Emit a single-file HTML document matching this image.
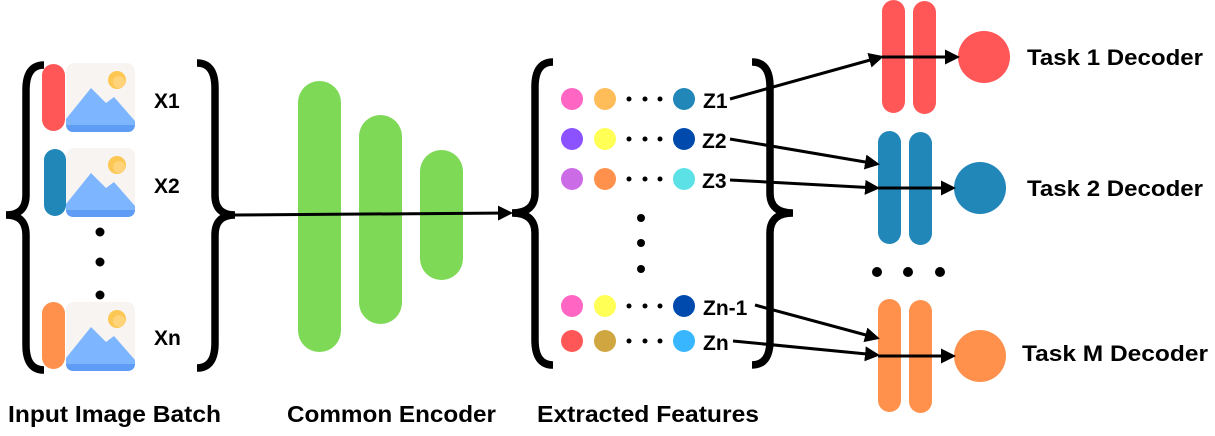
<!DOCTYPE html>
<html><head><meta charset="utf-8"><style>
html,body{margin:0;padding:0;background:#fff;}
svg{display:block;}
text{font-family:"Liberation Sans",sans-serif;font-weight:bold;fill:#000;}
</style></head><body>
<svg width="1215" height="436" viewBox="0 0 1215 436" xmlns="http://www.w3.org/2000/svg">
<defs>
<marker id="ah" markerWidth="5" markerHeight="5" refX="4" refY="2.5" orient="auto" markerUnits="strokeWidth">
<path d="M0,0 L5,2.5 L0,5 Z" fill="#000"/>
</marker>
<g id="img">
<rect x="0" y="0" width="69" height="69" rx="8" fill="#f8f4f2"/>
<path d="M0,56 L25,25 L40,40 L48,34 L69,58 L69,61 Q69,69 61,69 L8,69 Q0,69 0,61 Z" fill="#7eb5ff"/>
<path d="M0,62 L69,62 L69,61 Q69,69 61,69 L8,69 Q0,69 0,61 Z" fill="#5e9cf5"/>
<circle cx="51" cy="17" r="9" fill="#fdc753"/>
<circle cx="53" cy="19" r="6" fill="#ffd37a"/>
</g>
</defs>

<path d="M44,65 Q26,65 26,90 L26,195 Q26,215 6,215 Q26,215 26,235 L26,345 Q26,370 44,370" fill="none" stroke="#000" stroke-width="7.5"/>
<path d="M197,63 Q215,63 215,88 L215,195 Q215,215 235,215 Q215,215 215,235 L215,343 Q215,368 197,368" fill="none" stroke="#000" stroke-width="7.5"/>

<rect x="42" y="64" width="23" height="67" rx="11.5" fill="#ff5757"/>
<use href="#img" x="66" y="63"/>
<rect x="44" y="149" width="22" height="67" rx="11" fill="#2186b8"/>
<use href="#img" x="66" y="148"/>
<rect x="42" y="302" width="23" height="67" rx="11.5" fill="#ff914d"/>
<use href="#img" x="66" y="302"/>
<circle cx="100" cy="232" r="4.5" fill="#000"/>
<circle cx="100" cy="262" r="4.5" fill="#000"/>
<circle cx="100" cy="295" r="4.5" fill="#000"/>
<text x="154" y="108" font-size="21">X1</text>
<text x="154" y="193" font-size="21">X2</text>
<text x="154" y="345" font-size="21">Xn</text>

<rect x="298" y="81" width="43" height="271" rx="21.5" fill="#7ed957"/>
<rect x="359" y="115" width="43" height="209" rx="21.5" fill="#7ed957"/>
<rect x="420" y="150" width="43" height="130" rx="21.5" fill="#7ed957"/>
<line x1="235" y1="215" x2="510" y2="213" stroke="#000" stroke-width="3" marker-end="url(#ah)"/>

<path d="M553,62 Q535,62 535,87 L535,193 Q535,213 512,213 Q535,213 535,233 L535,340 Q535,365 553,365" fill="none" stroke="#000" stroke-width="7.5"/>
<path d="M752,62 Q770,62 770,87 L770,193 Q770,213 793,213 Q770,213 770,233 L770,340 Q770,365 752,365" fill="none" stroke="#000" stroke-width="7.5"/>

<g>
<circle cx="572" cy="99" r="11" fill="#ff66c4"/><circle cx="605" cy="99" r="11" fill="#ffbd59"/><circle cx="684" cy="99" r="11" fill="#2186b8"/>
<circle cx="572" cy="139" r="11" fill="#8c52ff"/><circle cx="605" cy="139" r="11" fill="#ffff55"/><circle cx="684" cy="139" r="11" fill="#004aad"/>
<circle cx="572" cy="179" r="11" fill="#cb6ce6"/><circle cx="605" cy="179" r="11" fill="#ff914d"/><circle cx="684" cy="179" r="11" fill="#5ce1e6"/>
<circle cx="572" cy="306" r="11" fill="#ff66c4"/><circle cx="605" cy="306" r="11" fill="#ffff55"/><circle cx="684" cy="306" r="11" fill="#004aad"/>
<circle cx="572" cy="341" r="11" fill="#ff5757"/><circle cx="605" cy="341" r="11" fill="#d0a640"/><circle cx="684" cy="341" r="11" fill="#38b6ff"/>
</g>
<g fill="#000">
<circle cx="629" cy="99" r="2.5"/><circle cx="645" cy="99" r="2.5"/><circle cx="660" cy="99" r="2.5"/>
<circle cx="629" cy="139" r="2.5"/><circle cx="645" cy="139" r="2.5"/><circle cx="660" cy="139" r="2.5"/>
<circle cx="629" cy="179" r="2.5"/><circle cx="645" cy="179" r="2.5"/><circle cx="660" cy="179" r="2.5"/>
<circle cx="629" cy="306" r="2.5"/><circle cx="645" cy="306" r="2.5"/><circle cx="660" cy="306" r="2.5"/>
<circle cx="629" cy="341" r="2.5"/><circle cx="645" cy="341" r="2.5"/><circle cx="660" cy="341" r="2.5"/>
<circle cx="641" cy="218" r="4"/><circle cx="641" cy="243" r="4"/><circle cx="641" cy="269" r="4"/>
</g>
<text x="703" y="108" font-size="21">Z1</text>
<text x="702" y="148" font-size="21">Z2</text>
<text x="702" y="188" font-size="21">Z3</text>
<text x="703" y="315" font-size="21">Zn-1</text>
<text x="703" y="350" font-size="21">Zn</text>

<rect x="882" y="0" width="23" height="113" rx="11.5" fill="#ff5757"/>
<rect x="913" y="1" width="23" height="113" rx="11.5" fill="#ff5757"/>
<circle cx="984" cy="57" r="26" fill="#ff5757"/>
<rect x="878" y="131" width="23" height="113" rx="11.5" fill="#2186b8"/>
<rect x="909" y="132" width="23" height="113" rx="11.5" fill="#2186b8"/>
<circle cx="980" cy="188" r="26" fill="#2186b8"/>
<rect x="878" y="299" width="23" height="113" rx="11.5" fill="#ff914d"/>
<rect x="909" y="300" width="23" height="113" rx="11.5" fill="#ff914d"/>
<circle cx="980" cy="356" r="26" fill="#ff914d"/>
<circle cx="877" cy="272" r="5" fill="#000"/><circle cx="908" cy="272" r="5" fill="#000"/><circle cx="940" cy="272" r="5" fill="#000"/>

<g stroke="#000" stroke-width="3" fill="none" marker-end="url(#ah)">
<line x1="730" y1="99" x2="881" y2="57"/>
<line x1="730" y1="139" x2="877" y2="164"/>
<line x1="730" y1="180" x2="877" y2="188"/>
<line x1="755" y1="305" x2="877" y2="338"/>
<line x1="733" y1="341" x2="877" y2="355"/>
<line x1="882" y1="57" x2="957" y2="57"/>
<line x1="878" y1="188" x2="953" y2="188"/>
<line x1="878" y1="356" x2="953" y2="356"/>
</g>

<text x="1027" y="65" font-size="22" textLength="176" lengthAdjust="spacingAndGlyphs">Task 1 Decoder</text>
<text x="1027" y="196" font-size="22" textLength="176" lengthAdjust="spacingAndGlyphs">Task 2 Decoder</text>
<text x="1022" y="361" font-size="22" textLength="186" lengthAdjust="spacingAndGlyphs">Task M Decoder</text>

<text x="8" y="422" font-size="23" textLength="213" lengthAdjust="spacingAndGlyphs">Input Image Batch</text>
<text x="287" y="422" font-size="23" textLength="209" lengthAdjust="spacingAndGlyphs">Common Encoder</text>
<text x="537" y="422" font-size="23" textLength="222" lengthAdjust="spacingAndGlyphs">Extracted Features</text>
</svg>
</body></html>
